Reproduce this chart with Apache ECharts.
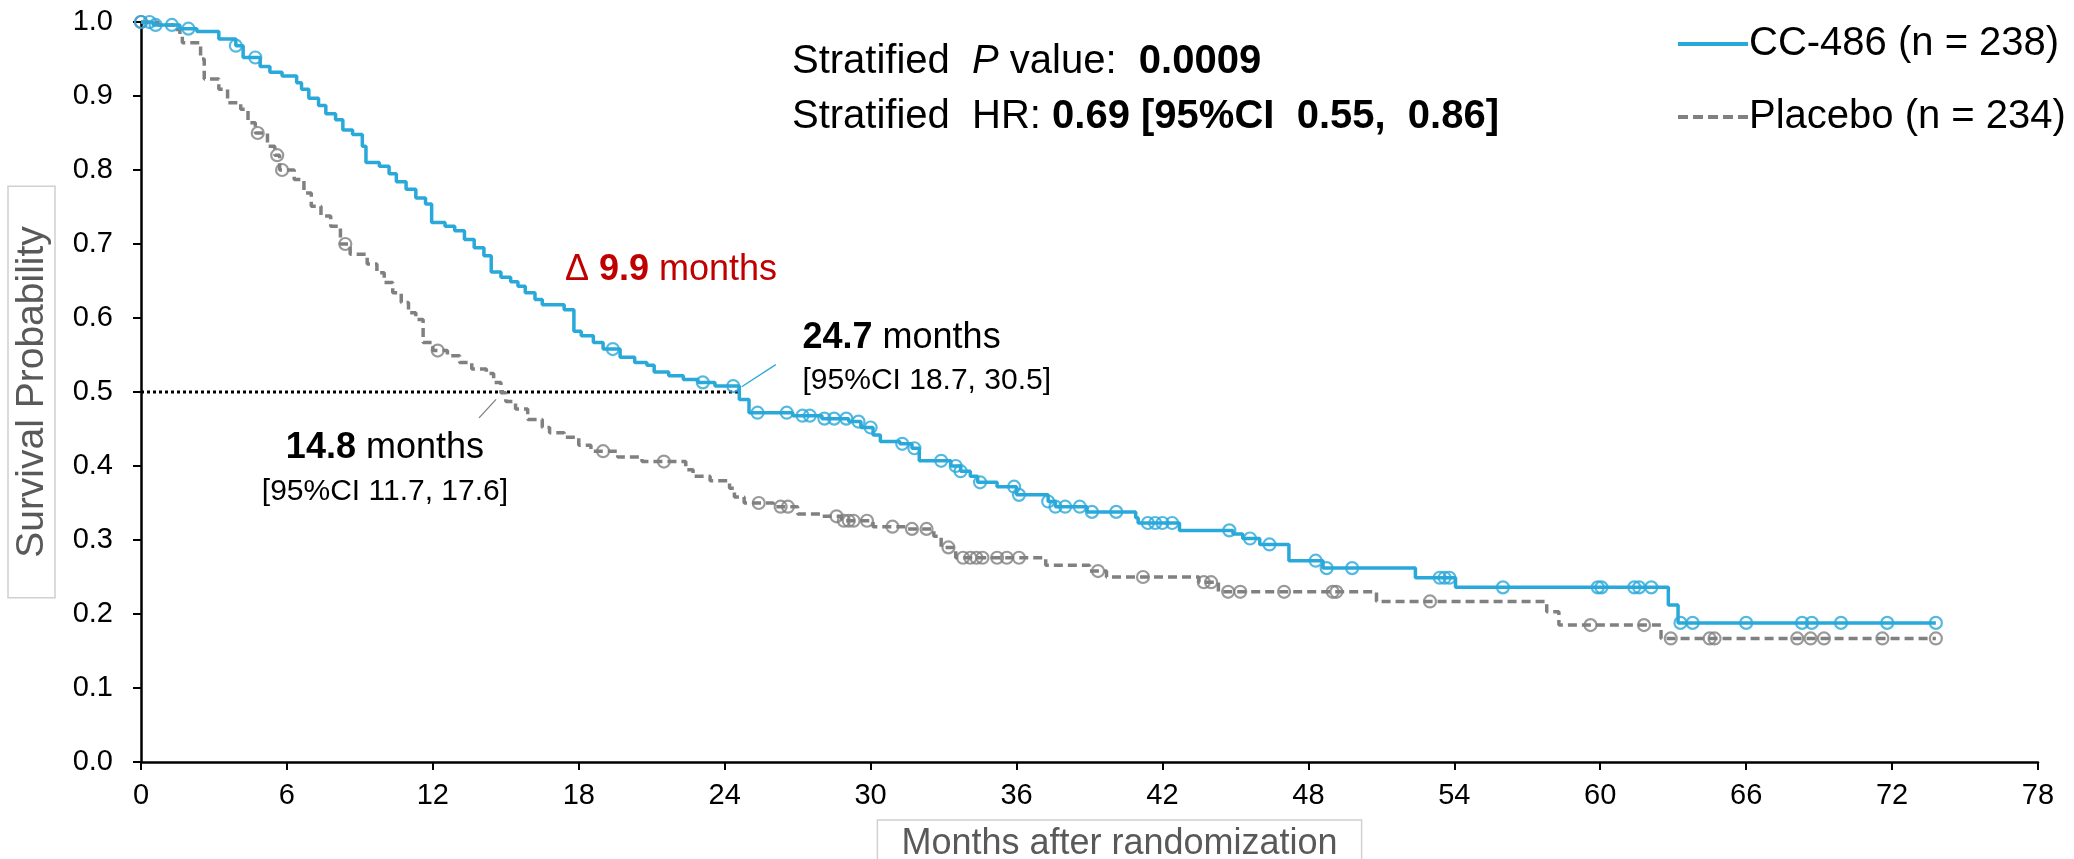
<!DOCTYPE html>
<html>
<head>
<meta charset="utf-8">
<script src="https://cdn.jsdelivr.net/npm/echarts@6/dist/echarts.min.js"></script>
<style>html,body{margin:0;padding:0;background:#fff}#c{width:2074px;height:859px}</style>
</head>
<body>
<div id="c"></div>
<script>
// ---- data (months, survival probability) ----
const ccName = 'CC-486 (n = 238)';
const plName = 'Placebo (n = 234)';
const ccTimes = [0,0.5,1.6,2.3,3.2,3.9,4.2,4.9,5.3,5.8,6.4,6.6,6.9,7.3,7.6,8.0,8.3,8.7,9.1,9.25,9.8,10.2,10.5,10.9,11.3,11.7,11.95,12.5,12.9,13.3,13.7,14.1,14.4,14.8,15.2,15.5,15.8,16.2,16.5,17.4,17.8,18.1,18.6,19.0,19.7,20.3,20.8,21.1,21.7,22.3,22.9,23.6,24.6,25.0,26.8,28.0,29.1,29.6,30.1,30.4,31.2,31.7,32.0,33.3,33.7,34.1,34.4,35.2,36.0,37.3,37.6,38.9,40.9,41.0,42.7,44.9,45.3,46.0,47.2,48.6,52.4,54.05,62.8,63.2];
const ccSurv  = [1.0,0.996,0.991,0.987,0.977,0.968,0.952,0.94,0.932,0.927,0.918,0.909,0.897,0.887,0.876,0.868,0.854,0.848,0.832,0.81,0.805,0.795,0.784,0.774,0.762,0.754,0.729,0.724,0.718,0.706,0.695,0.684,0.662,0.655,0.649,0.643,0.634,0.625,0.618,0.611,0.582,0.576,0.567,0.558,0.547,0.54,0.536,0.527,0.522,0.517,0.513,0.508,0.49,0.472,0.468,0.464,0.46,0.452,0.442,0.433,0.43,0.424,0.407,0.4,0.393,0.386,0.378,0.372,0.361,0.352,0.345,0.338,0.33,0.323,0.313,0.308,0.302,0.294,0.272,0.262,0.249,0.236,0.212,0.188];
const ccCensor = [0,0.35,0.6,1.27,1.95,3.9,4.7,19.4,23.1,24.35,25.35,26.55,27.2,27.5,28.1,28.5,29.0,29.5,30.0,31.3,31.8,32.9,33.5,33.7,34.5,35.9,36.1,37.3,37.6,38.0,38.6,39.1,40.1,41.4,41.7,42.0,42.4,44.75,45.6,46.4,48.3,48.75,49.8,53.4,53.6,53.8,56.0,59.9,60.05,61.4,61.6,62.1,63.3,63.8,66.0,68.3,68.7,69.9,71.8,73.8];

const plTimes = [0,0.7,1.4,1.6,1.7,2.45,2.6,3.2,3.56,4.1,4.4,4.7,5.2,5.5,5.7,6.3,6.7,7.0,7.4,7.8,8.2,8.6,9.3,9.7,10.0,10.35,10.7,11.0,11.3,11.6,12.0,12.6,13.1,13.6,14.2,14.5,14.8,15.0,15.4,15.9,16.5,16.8,17.4,18.0,18.5,19.6,20.6,22.4,22.7,23.4,24.2,24.4,24.8,26.0,27.0,28.0,28.8,30.1,31.5,32.6,32.9,33.5,37.2,39.0,39.7,43.5,44.3,50.8,57.8,58.3,62.5];
const plSurv  = [1.0,0.996,0.99,0.983,0.972,0.95,0.923,0.909,0.891,0.882,0.864,0.85,0.832,0.82,0.80,0.787,0.769,0.751,0.738,0.724,0.70,0.686,0.673,0.661,0.648,0.634,0.621,0.607,0.598,0.567,0.556,0.549,0.54,0.531,0.525,0.513,0.499,0.487,0.477,0.463,0.452,0.445,0.439,0.428,0.42,0.412,0.406,0.395,0.386,0.38,0.37,0.358,0.35,0.345,0.335,0.332,0.326,0.318,0.315,0.305,0.29,0.276,0.266,0.258,0.25,0.243,0.23,0.217,0.203,0.185,0.167];
const plCensor = [0,4.8,5.6,5.8,8.4,12.2,19.0,21.5,25.4,26.3,26.6,28.6,28.9,29.1,29.3,29.85,30.9,31.7,32.3,33.2,33.8,34.1,34.35,34.6,35.2,35.6,36.1,39.35,41.2,43.7,44.0,44.7,45.2,47.0,49.0,49.15,53.0,59.6,61.8,62.9,64.5,64.7,68.1,68.65,69.2,71.6,73.8];

const followUpEnd = 73.8;
const medianLevel = 0.5;
const medianCC = 24.7, medianPl = 14.8;
const xTicks = {min: 0, max: 78, interval: 6};
const yTicks = {min: 0, max: 1, interval: 0.1};

// ---- helpers ----
function survAt(times, surv, t) {
  let v = surv[0];
  for (let i = 0; i < times.length; i++) { if (times[i] <= t) v = surv[i]; else break; }
  return v;
}
function stepData(times, surv, end) {
  const d = times.map((t, i) => [t, surv[i]]);
  d.push([end, surv[surv.length - 1]]);
  return d;
}
const BLUE = '#29A8DA', GRAY = '#808080';
const FONT = "'Liberation Sans', Arial, sans-serif";

const chart = echarts.init(document.getElementById('c'), null, {renderer: 'canvas'});
chart.setOption({
  animation: false,
  backgroundColor: '#fff',
  textStyle: {fontFamily: FONT},
  grid: {left: 141, right: 36, top: 22, bottom: 97, containLabel: false, outerBoundsMode: 'none'},
  legend: {
    data: [
      {name: ccName, icon: 'path://M0,0H70V4H0Z'},
      {name: plName, icon: 'path://M0,0H10V4H0Z M15,0H25V4H15Z M30,0H40V4H30Z M45,0H55V4H45Z M60,0H70V4H60Z'}
    ],
    orient: 'vertical', left: 1673, top: 19,
    itemWidth: 70, itemHeight: 4, itemGap: 33,
    textStyle: {fontFamily: FONT, fontSize: 40, color: '#000', padding: [0, 0, 0, -4]}
  },
  xAxis: {
    type: 'value', min: xTicks.min, max: xTicks.max, interval: xTicks.interval,
    name: '{sp|}{t|Months after randomization}', nameLocation: 'middle', nameGap: 58,
    nameTextStyle: {rich: {
      sp: {width: 60},
      t: {fontFamily: FONT, fontSize: 36, color: '#595959', borderColor: '#d0d0d0', borderWidth: 1.5, padding: [6, 24, 20, 24]}
    }},
    axisLine: {lineStyle: {color: '#000', width: 2.5}},
    axisTick: {length: 8, lineStyle: {color: '#000', width: 2}},
    axisLabel: {fontFamily: FONT, fontSize: 29, color: '#000', margin: 19},
    splitLine: {show: false}
  },
  yAxis: {
    type: 'value', min: yTicks.min, max: yTicks.max, interval: yTicks.interval,
    name: 'Survival Probability', nameLocation: 'middle', nameGap: 86, nameRotate: 90,
    nameTextStyle: {fontFamily: FONT, fontSize: 39, color: '#595959', borderColor: '#d0d0d0', borderWidth: 1.5, padding: [5, 40, 3, 40]},
    axisLine: {show: true, lineStyle: {color: '#000', width: 2.5}},
    axisTick: {show: true, length: 8, lineStyle: {color: '#000', width: 2}},
    axisLabel: {fontFamily: FONT, fontSize: 29, color: '#000', margin: 28, formatter: v => v.toFixed(1)},
    splitLine: {show: false}
  },
  series: [
    {name: 'median', type: 'line', data: [[0, medianLevel], [ccTimes[ccSurv.findIndex(s => s < medianLevel)], medianLevel]],
     symbol: 'none', silent: true, lineStyle: {color: '#000', width: 3, type: [3, 3]}, z: 1},
    {name: plName, type: 'line', step: 'end', data: stepData(plTimes, plSurv, followUpEnd), symbol: 'none',
     lineStyle: {color: GRAY, width: 3.5, type: [9, 5]}, itemStyle: {color: GRAY}, z: 2},
    {name: ccName, type: 'line', step: 'end', data: stepData(ccTimes, ccSurv, followUpEnd), symbol: 'none',
     lineStyle: {color: BLUE, width: 3.5}, itemStyle: {color: BLUE}, z: 3},
    {name: 'plCens', type: 'scatter', data: plCensor.map(t => [t, survAt(plTimes, plSurv, t)]),
     symbol: 'circle', symbolSize: 12, itemStyle: {color: 'rgba(255,255,255,0)', borderColor: GRAY, borderWidth: 2.2}, z: 4},
    {name: 'ccCens', type: 'scatter', data: ccCensor.map(t => [t, survAt(ccTimes, ccSurv, t)]),
     symbol: 'circle', symbolSize: 12, itemStyle: {color: 'rgba(255,255,255,0)', borderColor: BLUE, borderWidth: 2.2}, z: 5}
  ]
});

function px(x, y) { return chart.convertToPixel({gridIndex: 0}, [x, y]); }
const pDelta = px(17.43, 0.665);
const pCC = px(27.2, 0.573), pCCci = px(27.2, 0.515);
const pPl = px(10.03, 0.424), pPlci = px(10.03, 0.365);
const lCC0 = px(medianCC, 0.507), lCC1 = px(26.1, 0.537);
const lPl0 = px(14.6, 0.49), lPl1 = px(13.9, 0.465);
const rich = {
  n: {fontFamily: FONT, fontSize: 40, fill: '#000'},
  i: {fontFamily: FONT, fontSize: 40, fill: '#000', fontStyle: 'italic'},
  b: {fontFamily: FONT, fontSize: 40, fill: '#000', fontWeight: 'bold'}
};
const rich36 = {
  n: {fontFamily: FONT, fontSize: 36, fill: '#000'},
  b: {fontFamily: FONT, fontSize: 36, fill: '#000', fontWeight: 'bold'},
  r: {fontFamily: FONT, fontSize: 36, fill: '#C00000'},
  rb: {fontFamily: FONT, fontSize: 36, fill: '#C00000', fontWeight: 'bold'}
};
chart.setOption({graphic: [
  {type: 'text', left: 792, top: 42, style: {text: '{n|Stratified  }{i|P}{n| value:  }{b|0.0009}', rich: rich}},
  {type: 'text', left: 792, top: 97, style: {text: '{n|Stratified  HR: }{b|0.69 [95%CI  0.55,  0.86]}', rich: rich}},
  {type: 'text', x: pDelta[0], y: pDelta[1], style: {text: '{r|\u0394 }{rb|9.9}{r| months}', verticalAlign: 'middle', rich: rich36}},
  {type: 'text', x: pCC[0], y: pCC[1], style: {text: '{b|' + medianCC.toFixed(1) + '}{n| months}', verticalAlign: 'middle', rich: rich36}},
  {type: 'text', x: pCCci[0], y: pCCci[1], style: {text: '[95%CI 18.7, 30.5]', font: '30px ' + FONT, fill: '#000', verticalAlign: 'middle'}},
  {type: 'text', x: pPl[0], y: pPl[1], style: {text: '{b|' + medianPl.toFixed(1) + '}{n| months}', align: 'center', verticalAlign: 'middle', rich: rich36}},
  {type: 'text', x: pPlci[0], y: pPlci[1], style: {text: '[95%CI 11.7, 17.6]', font: '30px ' + FONT, fill: '#000', align: 'center', verticalAlign: 'middle'}},
  {type: 'line', shape: {x1: lCC0[0], y1: lCC0[1], x2: lCC1[0], y2: lCC1[1]}, style: {stroke: BLUE, lineWidth: 1.3}},
  {type: 'line', shape: {x1: lPl0[0], y1: lPl0[1], x2: lPl1[0], y2: lPl1[1]}, style: {stroke: GRAY, lineWidth: 1.3}}
]});
</script>
</body>
</html>
